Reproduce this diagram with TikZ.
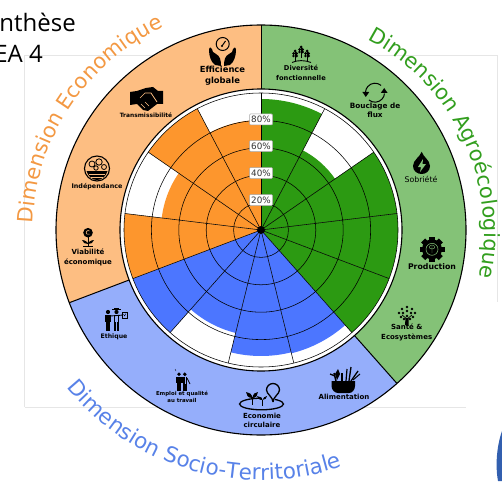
\documentclass[tikz,border=0pt]{standalone}
\usepackage{fontspec}
\setmainfont{DejaVu Sans}
\newfontfamily\titlefont{Open Sans}
\usetikzlibrary{decorations.text}
\definecolor{barO}{RGB}{253,150,45}
\definecolor{barG}{RGB}{44,154,18}
\definecolor{barB}{RGB}{76,118,255}
\definecolor{bandO}{RGB}{253,190,130}
\definecolor{bandG}{RGB}{132,194,119}
\definecolor{bandB}{RGB}{149,174,251}
\definecolor{txtO}{RGB}{243,152,66}
\definecolor{txtG}{RGB}{50,158,30}
\definecolor{txtB}{RGB}{88,130,232}
\definecolor{frameC}{RGB}{230,230,230}
\definecolor{logoB}{RGB}{50,95,175}
\newcommand\barwedge[3]{\fill[#1] (0,0) -- ({90-#2}:#3pt) arc[start angle={90-#2},end angle={90-#2-27.692},radius=#3pt] -- cycle;}
\newcommand\bandwedge[3]{\fill[#1] (0,0) -- ({90-#2}:205pt) arc[start angle={90-#2},end angle={90-#3},radius=205pt] -- cycle;}
\newcommand\lblf[2]{\fontsize{#1}{#2}\selectfont\bfseries}
\newcommand\pers[3]{\fill (#1,#2) circle (1.9*#3);
 \fill (#1-2.6*#3,#2+2.3*#3) rectangle (#1+2.6*#3,#2+9*#3);
 \fill (#1-2.2*#3,#2+9*#3) rectangle (#1-.3*#3,#2+17*#3);
 \fill (#1+.3*#3,#2+9*#3) rectangle (#1+2.2*#3,#2+17*#3);}
\tikzset{
 lab/.style={inner sep=0pt,align=center,text=black},
 pct/.style={draw=gray!70,fill=white,rounded corners=1pt,inner sep=0pt,minimum width=23pt,minimum height=11pt,line width=.5pt,font=\fontsize{8.8}{9}\selectfont,text=black!80},
 gridline/.style={line width=.55pt,black},
 ttl/.style={inner sep=0pt,anchor=base east,font=\titlefont\fontsize{24}{26}\selectfont,text=black}
}
\begin{document}
\begin{tikzpicture}[x=1pt,y=-1pt]
\useasboundingbox (0,0) rectangle (502,481);
% background frame
\draw[frameC,line width=.6pt] (24.5,407) -- (24.5,55) -- (497,55) -- (497,302);
\draw[frameC,line width=.6pt] (24.5,407) -- (466,407);
% title
\node[ttl] (t1) at (76,32) {nthèse};
\node[ttl] (t2) at (43,63) {EA 4};
% logo
\fill[logoB] (502,431) .. controls (497,445) and (495,465) .. (498,481) -- (502,481) -- cycle;
\begin{scope}[shift={(261pt,-230pt)},x=1pt,y=1pt]
 \bandwedge{bandG}{0}{138.46}
 \bandwedge{bandB}{138.46}{249.23}
 \bandwedge{bandO}{249.23}{360}
 \draw[black,line width=1.1pt] (0,0) circle (205pt);
 \fill[white] (0,0) circle (141pt);
 \draw[black,line width=1.1pt] (0,0) circle (141pt);
 \foreach \a in {0,138.46,249.23} \draw[black,line width=1pt] ({90-\a}:141pt) -- ({90-\a}:205pt);
 \barwedge{barG}{0}{131}
 \barwedge{barG}{27.692}{90}
 \barwedge{barG}{55.385}{137}
 \barwedge{barG}{83.077}{137}
 \barwedge{barG}{110.77}{137}
 \barwedge{barB}{138.46}{127}
 \barwedge{barB}{166.15}{126}
 \barwedge{barB}{193.85}{106}
 \barwedge{barB}{221.54}{137}
 \barwedge{barO}{249.23}{137}
 \barwedge{barO}{276.92}{100}
 \barwedge{barO}{304.62}{137}
 \barwedge{barO}{332.31}{110}
 \foreach \r in {27.4,54.8,82.2,109.6,137} \draw[gridline] (0,0) circle (\r pt);
 \foreach \i in {0,...,12} \draw[gridline] (0,0) -- ({90-\i*27.692}:137pt);
 \fill[black] (0,0) circle (4pt);
 % curved titles
 \path[decorate,decoration={text along path,text align=left,text={|\fontsize{21}{24}\selectfont\color{txtO}|Dimension Economique}}] ([shift={(-4pt,-1pt)}]178:224pt) arc[start angle=178,end angle=100,radius=224pt];
 \path[decorate,decoration={text along path,text align=left,text={|\fontsize{21}{24}\selectfont\color{txtG}|Dimension Agroécologique}}] ([shift={(6pt,-2pt)}]62.5:217pt) arc[start angle=62.5,end angle=-25,radius=217pt];
 \path[decorate,decoration={text along path,text align=left,text={|\fontsize{21.5}{24}\selectfont\color{txtB}|Dimension Socio-Territoriale}}] (219:250pt) arc[start angle=219,end angle=300,radius=250pt];
\end{scope}
\node[pct] (p80) at (261,119.5) {80\%};
\node[pct] (p60) at (261,146) {60\%};
\node[pct] (p40) at (261,173) {40\%};
\node[pct] (p20) at (261,200) {20\%};
% labels
\node[lab,font=\lblf{8.4}{11}] (eff) at (222.5,76) {Efficience\\globale};
\node[lab,font=\lblf{5.9}{7}] (tra) at (146,115) {Transmissibilité};
\node[lab,font=\lblf{6.4}{8}] (ind) at (97,186.5) {Indépendance};
\node[lab,font=\lblf{7}{9.4}] (via) at (88,257.5) {Viabilité\\économique};
\node[lab,font=\lblf{6.2}{8}] (eth) at (114,336.5) {Ethique};
\node[lab,font=\lblf{5.4}{6.8}] (emp) at (182,397) {Emploi et qualité\\au travail};
\node[lab,font=\lblf{7}{9.2}] (eco) at (262,420) {Economie\\circulaire};
\node[lab,font=\lblf{7}{9}] (ali) at (344,397) {Alimentation};
\node[lab,font=\lblf{7}{9.2}] (san) at (406.7,332.5) {Santé \&\\Ecosystèmes};
\node[lab,font=\lblf{7.8}{10}] (pro) at (432,267) {Production};
\node[lab,font=\fontsize{7.8}{9}\selectfont] (sob) at (421,179) {Sobriété};
\node[lab,font=\lblf{7.3}{9.2}] (bou) at (375,110.5) {Bouclage de\\flux};
\node[lab,font=\lblf{6.7}{10}] (div) at (301,73) {Diversité\\fonctionnelle};
% icons
% gauge and hands
\draw[line width=1pt] (222.7,44) circle (6.5);
\draw[line width=1pt] (222,46) -- (225.5,41);
\fill (222,46) circle (1.2);
\fill (209,50) .. controls (209,46) and (212,47) .. (213,52) -- (216,54) .. controls (220,56) and (221,60) .. (221,66) -- (215,65) .. controls (211,62) and (209,56) .. (209,50) -- cycle;
\fill (236,50) .. controls (236,46) and (233,47) .. (232,52) -- (229,54) .. controls (225,56) and (224,60) .. (224,66) -- (230,65) .. controls (234,62) and (236,56) .. (236,50) -- cycle;
% handshake
\fill (130,92) -- (137,91) -- (146,88) -- (153,87) -- (158,91) -- (163,91) -- (163,104) -- (157,104) -- (148,111) -- (143,110) -- (137,104) -- (130,105) -- cycle;
\draw[bandO,line width=.7pt] (140,98) -- (145,93) -- (151,93) -- (157,102);
\draw[bandO,line width=.6pt] (141,104) -- (145,108) (145,102) -- (149,106);
% bowl
\draw[line width=1.1pt] (97,168.5) circle (12.5);
\fill (86.5,171) -- (107.5,171) .. controls (106,176) and (102,180) .. (97,180) .. controls (92,180) and (88,176) .. (86.5,171) -- cycle;
\draw[bandO,line width=.5pt] (89,174) -- (105,174) (91,177) -- (103,177);
\draw[line width=.8pt] (92,164) circle (3) (99,162) circle (3.2) (104,167) circle (2.5) (96,168) circle (2.2);
% viability plant
\fill (88,232.7) circle (4.8);
\draw[bandO,line width=.6pt] (89.5,231) arc[start angle=50,end angle=310,radius=2pt];
\draw[line width=.8pt] (88,237) -- (88,246);
\fill (88,243) .. controls (85,240) and (83,240) .. (82,240) .. controls (83,243) and (85,244) .. (88,244) -- cycle;
\fill (88,243) .. controls (91,240) and (93,240) .. (94,240) .. controls (93,243) and (91,244) .. (88,244) -- cycle;
\draw[line width=.8pt] (83,246.5) -- (93,246.5);
% trees
\foreach \cx/\cy in {301/47,295/51,307/51}{
 \fill (\cx,\cy) circle (1.5) (\cx-1.5,\cy+2.5) circle (1.5) (\cx+1.5,\cy+2.5) circle (1.5) (\cx-1.6,\cy+5) circle (1.4) (\cx+1.6,\cy+5) circle (1.4);
 \draw[line width=.7pt] (\cx,\cy) -- (\cx,\cy+11);
}
\draw[line width=.9pt] (292,62.5) .. controls (297,60) and (305,60) .. (311,62.5);
% loop arrows
\draw[line width=1pt] (375,92.7) ++(-130:9.5pt) arc[start angle=-130,end angle=-5,radius=9.5pt];
\draw[line width=1pt] (375,92.7) ++(50:9.5pt) arc[start angle=50,end angle=175,radius=9.5pt];
\fill (384.2,88) -- (380.8,93) -- (387.6,93) -- cycle;
\fill (365.8,97) -- (362.4,92) -- (369.2,92) -- cycle;
% drop
\fill (421.7,151.7) .. controls (423,157) and (430,160) .. (430,166) .. controls (430,171) and (426,174) .. (421.7,174) .. controls (417,174) and (413,171) .. (413,166) .. controls (413,160) and (420,157) .. (421.7,151.7) -- cycle;
\fill[bandG] (423,159) -- (418,167) -- (421,167) -- (420,172) -- (426,164) -- (422.5,164) -- cycle;
% gear
\foreach \a in {0,45,...,315}{\fill[rotate around={\a:(432,249.3)}] (429.2,236.8) rectangle (434.8,243);}
\fill (432,249.3) circle (10);
\draw[bandG,line width=.5pt] (432,249.3) circle (6);
\draw[bandG,line width=.4pt] (432,253) -- (432,246) (432,249) .. controls (428,249) and (429,245) .. (432,245) .. controls (435,245) and (436,249) .. (432,249);
% tree
\foreach \a/\b in {407/307,402/309,412/309,399/313,415/313,403/313,411/313,407/311,401/317,413/317,407/316,404/319,410/319}{\fill (\a,\b) circle (1.3);}
\fill (405.5,318) -- (408.5,318) -- (408.5,325) -- (405,325) -- cycle;
\draw[line width=.7pt] (407,319) -- (402,315) (407,319) -- (412,315);
% food bowl
\fill (331.5,381) -- (355,381) -- (355,386) .. controls (355,390) and (352,393) .. (349,393) -- (338,393) .. controls (335,393) and (331.5,390) .. (331.5,386) -- cycle;
\draw[line width=1.5pt] (336,381) -- (334,373);
\draw[line width=1.3pt] (330,374) -- (335,376);
\draw[line width=1.8pt] (342,381) -- (342,373);
\draw[line width=1.2pt] (346,381) -- (347,369);
\draw[line width=1.3pt] (349,381) -- (351,367);
\draw[line width=1.3pt] (351,381) -- (358,371);
\draw[line width=1pt] (353,380) -- (360,374);
\fill (338,369) -- (340,374) -- (337,380) -- (335,374) -- cycle;
% circular economy
\draw[line width=1.3pt] (261.5,404) ellipse (22 and 5.8);
\fill[bandB] (262,397) rectangle (275,402);
\draw[line width=1.3pt,fill=bandB] (273,402) .. controls (273,397) and (266.5,394) .. (266.5,390) arc[start angle=180,end angle=0,radius=6.5pt] .. controls (279.5,394) and (273,397) .. (273,402);
\fill (252,405) -- (252.8,405) -- (252.8,397) -- (252,397) -- cycle;
\fill (252.4,398) .. controls (248,398) and (246,395) .. (246,392) .. controls (249,392) and (252,394) .. (252.4,398) -- cycle;
\fill (252.4,398) .. controls (256,398) and (258,395) .. (258,392) .. controls (255,392) and (253,394) .. (252.4,398) -- cycle;
\fill (262,406) -- (262.8,406) -- (262.8,400) -- (262,400) -- cycle;
\fill (262.4,400) .. controls (259,400) and (257,398) .. (257,396) .. controls (260,396) and (262,398) .. (262.4,400) -- cycle;
\fill (262.4,400) .. controls (265,400) and (267,398) .. (267,396) .. controls (265,396) and (263,398) .. (262.4,400) -- cycle;
% employment
\pers{179}{374.3}{1}
\pers{184.8}{374.3}{1}
\draw[bandB,line width=.4pt] (184.8,377) -- (184.8,384);
\draw[line width=.8pt] (187,378) -- (190,384);
\draw[line width=.4pt] (176,371) -- (175,369);
% ethics
\pers{108}{312}{1.1}
\pers{116.5}{312}{1.1}
\fill[bandB] (115,316) rectangle (118,322);
\fill (112,309) rectangle (121,310.2);
\fill (114,307.5) rectangle (119,309.5);
\draw[line width=.9pt] (110,316) -- (124,315);
\draw[line width=.5pt,fill=bandB] (122,312) rectangle (127,318);
\draw[line width=.4pt] (123.5,314) -- (124.5,316) -- (126,313.5);
\end{tikzpicture}
\end{document}
